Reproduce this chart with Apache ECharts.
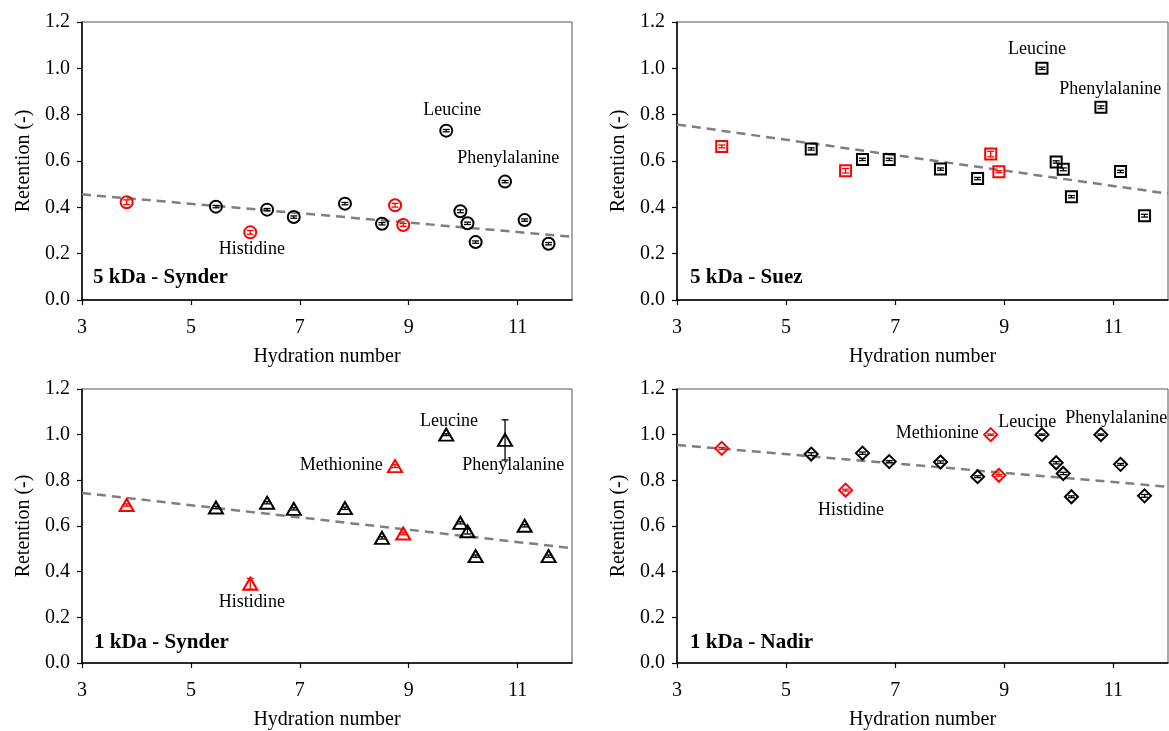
<!DOCTYPE html>
<html>
<head>
<meta charset="utf-8">
<script src="https://cdn.jsdelivr.net/npm/echarts@6/dist/echarts.min.js"></script>
<style>
  html, body { margin: 0; padding: 0; background: #fff; }
  #chart { width: 1169px; height: 731px; }
</style>
</head>
<body>
<div id="chart"></div>
<script>
// hydration number of each amino acid (same for all membranes)
var hydration = [3.82, 5.46, 6.09, 6.40, 6.89, 7.83, 8.51, 8.75, 8.90, 9.69, 9.95, 10.08, 10.23, 10.77, 11.13, 11.57];
// which points are drawn in red
var redPoint = [1, 0, 1, 0, 0, 0, 0, 1, 1, 0, 0, 0, 0, 0, 0, 0];

// retention per membrane
var ret5Synder = [0.422, 0.403, 0.292, 0.390, 0.358, 0.416, 0.329, 0.409, 0.324, 0.731, 0.383, 0.331, 0.250, 0.511, 0.345, 0.243];
var ret5Suez   = [0.663, 0.652, 0.558, 0.607, 0.607, 0.565, 0.524, 0.630, 0.554, 1.000, 0.596, 0.564, 0.446, 0.832, 0.555, 0.364];
var ret1Synder = [0.692, 0.681, 0.347, 0.702, 0.675, 0.678, 0.548, 0.862, 0.567, 1.000, 0.614, 0.577, 0.468, 0.977, 0.601, 0.468];
var ret1Nadir  = [0.940, 0.915, 0.757, 0.919, 0.882, 0.880, 0.816, 1.000, 0.822, 1.000, 0.877, 0.830, 0.728, 1.000, 0.870, 0.732];

// standard deviations (error bars)
var err5Synder = [0.010, 0.005, 0.008, 0.005, 0.005, 0.005, 0.005, 0.008, 0.006, 0.005, 0.006, 0.005, 0.005, 0.005, 0.005, 0.005];
var err5Suez   = [0.006, 0.005, 0.010, 0.005, 0.005, 0.005, 0.005, 0.012, 0.004, 0.005, 0.005, 0.006, 0.005, 0.006, 0.005, 0.006];
var err1Synder = [0.005, 0.005, 0.024, 0.005, 0.005, 0.005, 0.005, 0.006, 0.005, 0.004, 0.005, 0.012, 0.005, 0.088, 0.005, 0.005];
var err1Nadir  = [0.004, 0.006, 0.004, 0.005, 0.004, 0.005, 0.004, 0.003, 0.004, 0.003, 0.005, 0.005, 0.004, 0.003, 0.004, 0.006];

// linear trend lines [x, y] at both ends
var trend5Synder = [[3, 0.456], [12, 0.273]];
var trend5Suez   = [[3, 0.758], [12, 0.459]];
var trend1Synder = [[3, 0.745], [12, 0.503]];
var trend1Nadir  = [[3, 0.955], [12, 0.772]];

// annotations [x, y, text]
var notes5Synder = [[9.80, 0.82, 'Leucine'], [10.83, 0.613, 'Phenylalanine'], [6.12, 0.22, 'Histidine']];
var notes5Suez   = [[9.60, 1.083, 'Leucine'], [10.94, 0.911, 'Phenylalanine']];
var notes1Synder = [[9.74, 1.06, 'Leucine'], [7.76, 0.866, 'Methionine'], [10.92, 0.866, 'Phenylalanine'], [6.12, 0.268, 'Histidine']];
var notes1Nadir  = [[7.77, 1.007, 'Methionine'], [9.42, 1.055, 'Leucine'], [11.05, 1.073, 'Phenylalanine'], [6.19, 0.671, 'Histidine']];

var panelNames = ['5 kDa - Synder', '5 kDa - Suez', '1 kDa - Synder', '1 kDa - Nadir'];

var FONT = '"Liberation Serif", "Times New Roman", serif';

var panels = [
  {ret: ret5Synder, err: err5Synder, trend: trend5Synder, notes: notes5Synder, symbol: 'circle', size: 12},
  {ret: ret5Suez, err: err5Suez, trend: trend5Suez, notes: notes5Suez, symbol: 'rect', size: 11},
  {ret: ret1Synder, err: err1Synder, trend: trend1Synder, notes: notes1Synder, symbol: 'triangle', size: [14, 12]},
  {ret: ret1Nadir, err: err1Nadir, trend: trend1Nadir, notes: notes1Nadir, symbol: 'diamond', size: 13}
];

var grids = [
  {left: 82, top: 22, width: 490, height: 278},
  {left: 677, top: 22, width: 491, height: 278},
  {left: 82, top: 389, width: 490, height: 278},
  {left: 677, top: 389, width: 491, height: 278}
];
var titlePos = [[93, 267], [690, 267], [94, 632], [690, 632]];

function pointColor(i) { return redPoint[i] ? '#ff0000' : '#000000'; }

var option = {
  animation: false,
  backgroundColor: '#ffffff',
  textStyle: {fontFamily: FONT},
  title: [],
  grid: [],
  xAxis: [],
  yAxis: [],
  series: []
};

panels.forEach(function (p, k) {
  option.grid.push(Object.assign({show: true, borderColor: '#555', borderWidth: 1, containLabel: false}, grids[k]));
  option.title.push({
    text: panelNames[k], left: titlePos[k][0], top: titlePos[k][1], padding: 0,
    textStyle: {fontFamily: FONT, fontSize: 21, fontWeight: 'bold', color: '#000'}
  });
  option.xAxis.push({
    gridIndex: k, type: 'value', min: 3, max: 12, interval: 2,
    name: 'Hydration number', nameLocation: 'middle', nameGap: 47,
    nameTextStyle: {fontFamily: FONT, fontSize: 20, color: '#000'},
    axisLine: {show: true, lineStyle: {color: '#000', width: 1.5}},
    axisTick: {show: true, inside: false, length: 5, lineStyle: {color: '#000', width: 1.2}},
    axisLabel: {fontFamily: FONT, fontSize: 20, color: '#000', margin: 18, showMaxLabel: false},
    splitLine: {show: false}
  });
  option.yAxis.push({
    gridIndex: k, type: 'value', min: 0, max: 1.2, interval: 0.2,
    name: 'Retention (-)', nameLocation: 'middle', nameGap: 48, nameRotate: 90,
    nameTextStyle: {fontFamily: FONT, fontSize: 20, color: '#000'},
    axisLine: {show: true, lineStyle: {color: '#000', width: 1.5}},
    axisTick: {show: true, inside: false, length: 5, lineStyle: {color: '#000', width: 1.2}},
    axisLabel: {fontFamily: FONT, fontSize: 20, color: '#000', margin: 12,
      formatter: function (v) { return v.toFixed(1); }},
    splitLine: {show: false}
  });

  // trend line
  option.series.push({
    type: 'line', xAxisIndex: k, yAxisIndex: k, data: p.trend, symbol: 'none',
    lineStyle: {color: '#7f7f7f', width: 2.5, type: [9, 6]}, z: 2, silent: true
  });

  // markers
  option.series.push({
    type: 'scatter', xAxisIndex: k, yAxisIndex: k, symbol: p.symbol, symbolSize: p.size, z: 3,
    data: hydration.map(function (x, i) {
      return {value: [x, p.ret[i]], itemStyle: {color: 'rgba(255,255,255,0)', borderColor: pointColor(i), borderWidth: 2, opacity: 1}};
    })
  });

  // error bars
  option.series.push({
    type: 'custom', xAxisIndex: k, yAxisIndex: k, z: 4, silent: true,
    data: hydration.map(function (x, i) { return [x, p.ret[i], p.err[i], i]; }),
    renderItem: function (params, api) {
      var x = api.value(0), y = api.value(1), e = api.value(2), i = api.value(3);
      var lo = api.coord([x, y - e]), hi = api.coord([x, y + e]);
      var c = pointColor(i), w = 3.5;
      var st = {stroke: c, lineWidth: 1.3};
      return {
        type: 'group', children: [
          {type: 'line', shape: {x1: lo[0], y1: lo[1], x2: hi[0], y2: hi[1]}, style: st},
          {type: 'line', shape: {x1: lo[0] - w, y1: lo[1], x2: lo[0] + w, y2: lo[1]}, style: st},
          {type: 'line', shape: {x1: hi[0] - w, y1: hi[1], x2: hi[0] + w, y2: hi[1]}, style: st}
        ]
      };
    }
  });

  // amino acid names
  option.series.push({
    type: 'scatter', xAxisIndex: k, yAxisIndex: k, symbolSize: 1, z: 5, silent: true,
    itemStyle: {color: 'rgba(0,0,0,0)', opacity: 1},
    data: p.notes,
    label: {
      show: true, position: 'inside', color: '#000', fontFamily: FONT, fontSize: 18,
      formatter: function (d) { return d.value[2]; }
    }
  });
});

var chart = echarts.init(document.getElementById('chart'));
chart.setOption(option);
</script>
</body>
</html>
